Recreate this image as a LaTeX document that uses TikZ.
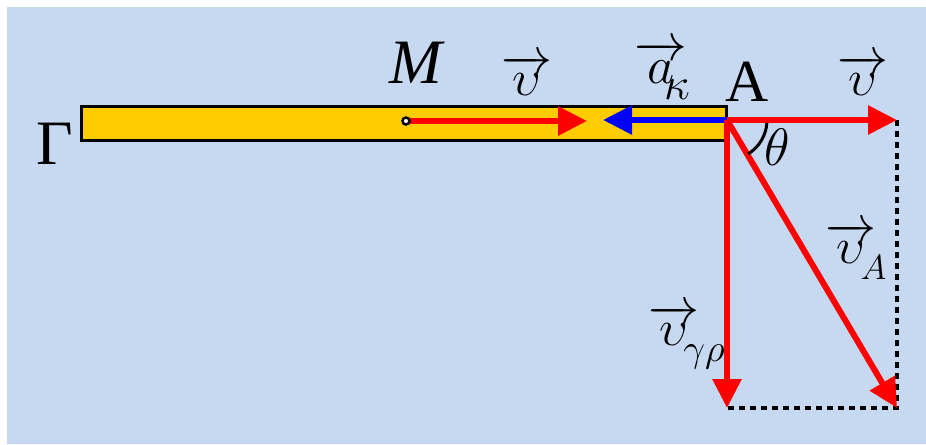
\documentclass[tikz,border=0pt]{standalone}
\usepackage{fix-cm}
\usepackage{fontspec}
\setmainfont{Liberation Serif}
\usepackage{amsmath}
\usetikzlibrary{arrows.meta, positioning}
\definecolor{bgblue}{RGB}{198,217,240}
\definecolor{bargold}{RGB}{255,204,0}
\newcommand{\fs}[1]{\fontsize{#1}{#1}\selectfont}
\newcommand{\vsym}[1]{$\overrightarrow{#1}$}
\newcommand{\vsub}[2]{\kern-9pt\raisebox{-9.5pt}{\fs{#1}$#2$}}

\begin{document}
\begin{tikzpicture}[x=0.02cm, y=-0.02cm,
  vec/.style={line width=0.12cm, -{Triangle[length=0.58cm, width=0.56cm]}},
  lbl/.style={inner sep=0pt, font=\fs{36}},
  vlbl/.style={inner sep=0pt, anchor=base west, font=\fs{29}},
  dots/.style={line width=0.08cm, dash pattern=on 0.12cm off 0.1cm}]
  \useasboundingbox (0,0) rectangle (926,444);
  % Background
  \fill[bgblue] (7,7) rectangle (926,444);
  % Rod
  \draw[fill=bargold, line width=0.06cm] (81,106) rectangle (726,140);
  % Points
  \coordinate (A) at (727,120);
  \coordinate (M) at (406,121);
  \coordinate (vM) at (587,121);
  \coordinate (ak) at (603,120);
  \coordinate (vA) at (897,120);
  \coordinate (vgr) at (727,408);
  \coordinate (corner) at (897,408);
  % Dotted completion
  \draw[dots] (vA) -- (corner) -- (vgr);
  % Vectors
  \draw[vec, red] (M) -- (vM);
  \draw[vec, blue] (A) -- (ak);
  \draw[vec, red] (A) -- (vA);
  \draw[vec, red] (A) -- (vgr);
  \draw[vec, red] (A) -- (corner);
  \fill[white, draw=black, line width=0.05cm] (M) circle (3.5);
  % Angle
  \draw[line width=0.06cm] (A) ++(4:40) arc[start angle=4, end angle=58, radius=40];
  % Labels
  \node[lbl] (Gammalab) at (55,144) {Γ};
  \node[lbl] (Mlab) at (416,63) {\itshape M};
  \node[lbl, font=\fs{34}] (Alab) at (747,82) {A};
  \node[lbl, font=\fs{30}] (thetalab) at (777,147) {$\theta$};
  \node[vlbl] (vMlab) at (501,95) {\vsym{\upsilon}};
  \node[vlbl, font=\fs{30}] (aklab) at (634,83) {\vsym{a}\kern-4pt\vsub{26}{\kappa}};
  \node[vlbl] (vlab) at (837,95) {\vsym{\upsilon}};
  \node[vlbl] (vAlab) at (825,263) {\vsym{\upsilon}\vsub{20}{A}};
  \node[vlbl] (vgrlab) at (648,345) {\vsym{\upsilon}\vsub{22}{\gamma\rho}};
\end{tikzpicture}
\end{document}
